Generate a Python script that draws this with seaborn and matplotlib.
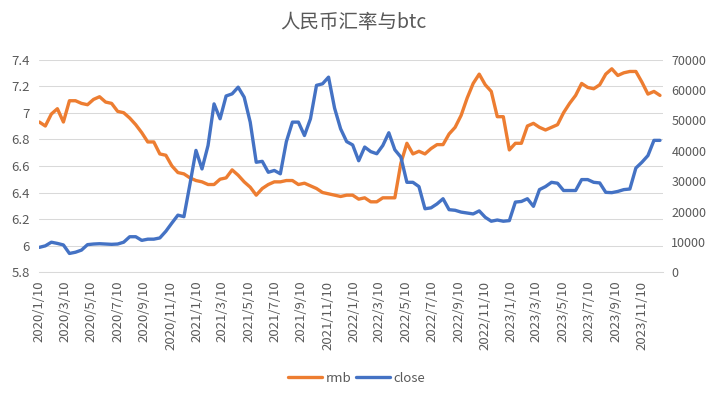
import matplotlib
matplotlib.use("Agg")
import matplotlib.pyplot as plt
import numpy as np
import pandas as pd
import seaborn as sns

# samples every two weeks
start_date = "2020-01-10"
n_points = 104

rmb = [
    6.93, 6.90, 6.99, 7.03, 6.93, 7.09, 7.09, 7.07, 7.06, 7.10,
    7.12, 7.08, 7.07, 7.01, 7.00, 6.96, 6.91, 6.85, 6.78, 6.78,
    6.69, 6.68, 6.60, 6.55, 6.54, 6.51, 6.49, 6.48, 6.46, 6.46,
    6.50, 6.51, 6.57, 6.53, 6.48, 6.44, 6.38, 6.43, 6.46, 6.48,
    6.48, 6.49, 6.49, 6.46, 6.47, 6.45, 6.43, 6.40, 6.39, 6.38,
    6.37, 6.38, 6.38, 6.35, 6.36, 6.33, 6.33, 6.36, 6.36, 6.36,
    6.62, 6.77, 6.69, 6.71, 6.69, 6.73, 6.76, 6.76, 6.84, 6.89,
    6.98, 7.11, 7.22, 7.29, 7.21, 7.16, 6.97, 6.97, 6.72, 6.77,
    6.77, 6.90, 6.92, 6.89, 6.87, 6.89, 6.91, 7.00, 7.07, 7.13,
    7.22, 7.19, 7.18, 7.21, 7.29, 7.33, 7.28, 7.30, 7.31, 7.31,
    7.23, 7.14, 7.16, 7.13,
]

close = [
    8200, 8700, 9900, 9500, 9000, 6200, 6600, 7300, 9100, 9300,
    9400, 9300, 9200, 9300, 9900, 11700, 11700, 10500, 10900, 10900,
    11300, 13500, 16200, 18800, 18300, 29000, 40100, 34000, 41700, 55400,
    50500, 58000, 58700, 60900, 57600, 49400, 36200, 36500, 32900, 33500,
    32400, 43000, 49400, 49400, 45000, 50500, 61500, 62000, 64200, 54000,
    47200, 43000, 41900, 36700, 41200, 39700, 39000, 41700, 45900, 40300,
    37900, 29600, 29600, 28200, 20900, 21200, 22500, 24200, 20600, 20400,
    19800, 19500, 19200, 20200, 18100, 16800, 17200, 16800, 17000, 23100,
    23300, 24200, 21700, 27200, 28200, 29600, 29300, 26900, 26900, 26900,
    30500, 30500, 29600, 29400, 26300, 26200, 26600, 27200, 27400, 34300,
    36200, 38400, 43400, 43400,
]

rmb_ticks = [5.8, 6.0, 6.2, 6.4, 6.6, 6.8, 7.0, 7.2, 7.4]
close_ticks = [0, 10000, 20000, 30000, 40000, 50000, 60000, 70000]

ORANGE = "#ED7D31"
BLUE = "#4472C4"
TEXT = "#595959"
GRID = "#D9D9D9"

sns.set_style("white")
plt.rcParams["font.family"] = ["Noto Sans CJK SC", "DejaVu Sans"]

df = pd.DataFrame({
    "date": pd.date_range(start_date, periods=n_points, freq="14D"),
    "rmb": rmb,
    "close": close,
})

fig = plt.figure(figsize=(7.06, 3.94), dpi=100)
ax = fig.add_axes([39.3 / 706, 1 - 272.3 / 394, (663 - 39.3) / 706, (272.3 - 59.5) / 394])
ax2 = ax.twinx()

sns.lineplot(data=df, x="date", y="rmb", ax=ax, color=ORANGE, linewidth=2.4, label="rmb", legend=False)
sns.lineplot(data=df, x="date", y="close", ax=ax2, color=BLUE, linewidth=2.4, label="close", legend=False)

ax.set_xlim(df["date"].iloc[0], pd.Timestamp("2023-12-29"))
ax.set_ylim(5.8, 7.4)
ax2.set_ylim(0, 70000)
ax.set_yticks(rmb_ticks)
ax.set_yticklabels([f"{v:g}" for v in rmb_ticks])
ax2.set_yticks(close_ticks)
ax2.set_yticklabels([str(v) for v in close_ticks])

xt = pd.date_range("2020-01-01", "2023-11-01", freq="2MS") + pd.Timedelta(days=9)
ax.set_xticks(xt)
ax.set_xticklabels([f"{d.year}/{d.month}/{d.day}" for d in xt], rotation=90)

ax.grid(axis="y", color=GRID, linewidth=0.75)
ax.set_axisbelow(True)
for a in (ax, ax2):
    for s in ("top", "left", "right", "bottom"):
        a.spines[s].set_visible(False)
    a.set_xlabel("")
    a.set_ylabel("")
ax.spines["bottom"].set_visible(True)
ax.spines["bottom"].set_color(GRID)
ax.spines["bottom"].set_linewidth(0.75)

ax.tick_params(axis="y", length=0, pad=7, labelsize=9.5, labelcolor=TEXT)
ax2.tick_params(axis="y", length=0, pad=6, labelsize=9, labelcolor=TEXT)
ax.tick_params(axis="x", length=4, width=0.75, color=GRID, pad=2, labelsize=9.5, labelcolor=TEXT)

fig.text(0.5, 1 - 22 / 394, "人民币汇率与btc", ha="center", va="center", fontsize=14, color=TEXT)

h1, l1 = ax.get_legend_handles_labels()
h2, l2 = ax2.get_legend_handles_labels()
fig.legend(h1 + h2, l1 + l2, loc="center", bbox_to_anchor=(0.505, 1 - 378 / 394), ncol=2,
           frameon=False, fontsize=9.5, labelcolor=TEXT, handlelength=2.6,
           handletextpad=0.3, columnspacing=0.3)

fig.savefig("out.png", dpi=100, facecolor="white")
